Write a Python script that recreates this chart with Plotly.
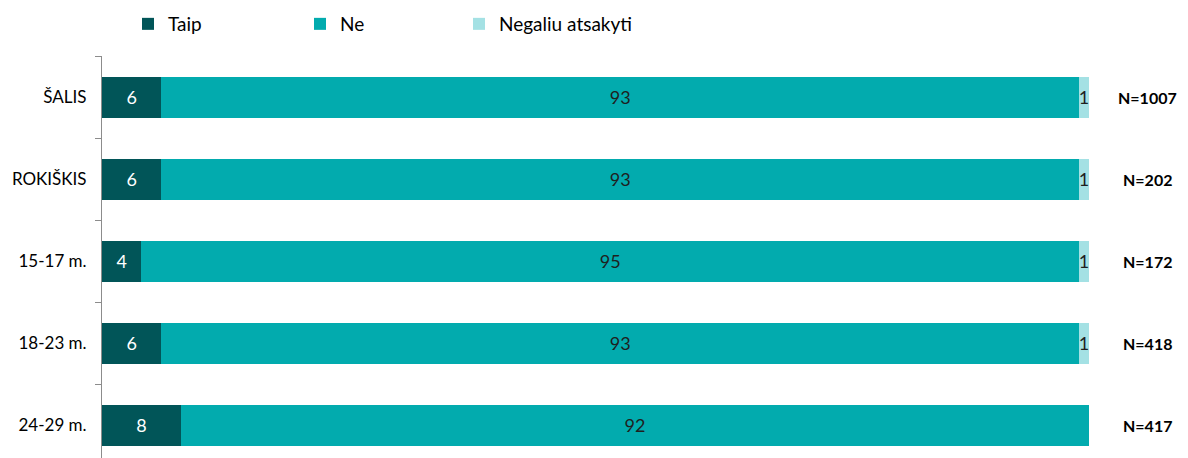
import plotly.graph_objects as go

categories = ["ŠALIS", "ROKIŠKIS", "15-17 m.", "18-23 m.", "24-29 m."]
taip = [6, 6, 4, 6, 8]
ne = [93, 93, 95, 93, 92]
negaliu = [1, 1, 1, 1, None]
n_labels = ["N=1007", "N=202", "N=172", "N=418", "N=417"]

FONT = "Lato, Carlito, Calibri, sans-serif"

fig = go.Figure()
fig.add_trace(go.Bar(
    y=categories, x=taip, name="Taip", orientation="h", legend="legend",
    marker=dict(color="#015558", line=dict(width=0)),
    text=taip, textposition="inside", insidetextanchor="middle",
    textfont=dict(color="white", size=18, family=FONT), constraintext="none",
))
fig.add_trace(go.Bar(
    y=categories, x=ne, name="Ne", orientation="h", legend="legend2",
    marker=dict(color="#02ABAE", line=dict(width=0)),
    text=ne, textposition="inside", insidetextanchor="middle",
    textfont=dict(color="#1f1f1f", size=18, family=FONT), constraintext="none",
))
fig.add_trace(go.Bar(
    y=categories, x=negaliu, name="Negaliu atsakyti", orientation="h", legend="legend3",
    marker=dict(color="#A4E1E4", line=dict(width=0)),
    text=[("" if v is None else str(v)) for v in negaliu],
    textposition="inside", insidetextanchor="middle",
    textfont=dict(color="#1f1f1f", size=18, family=FONT), constraintext="none",
))

# page body has an 8px margin, so the figure is sized/offset to compensate
W, H = 1180, 450
PLOT_L, PLOT_R = 94, 1081

for cat, lab in zip(categories, n_labels):
    fig.add_annotation(x=(1139 - PLOT_L) / (PLOT_R - PLOT_L), y=cat, xref="paper", yref="y",
                       text="<b>" + lab + "</b>", showarrow=False, xanchor="center",
                       font=dict(size=16, color="#000000", family=FONT))

leg_common = dict(orientation="h", xref="container", yref="container",
                  yanchor="middle", y=1 - 16 / H, xanchor="left",
                  font=dict(size=19, family=FONT, color="#000000"),
                  bgcolor="rgba(0,0,0,0)")

fig.update_layout(
    width=W, height=H,
    barmode="stack", bargap=0.5,
    plot_bgcolor="white", paper_bgcolor="white",
    margin=dict(l=PLOT_L, r=W - PLOT_R, t=48, b=0, autoexpand=False),
    font=dict(family=FONT, size=17, color="#000000"),
    showlegend=True,
    legend=dict(x=120 / W, **leg_common),
    legend2=dict(x=292 / W, **leg_common),
    legend3=dict(x=451 / W, **leg_common),
)
fig.update_xaxes(range=[0, 100], visible=False, fixedrange=True)
fig.update_yaxes(
    range=[4.40, -0.5], showline=True, linecolor="#8c8c8c", linewidth=1,
    ticks="outside", ticklen=6, tickcolor="#8c8c8c", tickson="boundaries",
    showgrid=False, zeroline=False, tickfont=dict(size=17, family=FONT, color="#000000"),
    categoryorder="array", categoryarray=categories, ticklabelstandoff=11,
    automargin=False,
)

fig.write_html("out.html")
